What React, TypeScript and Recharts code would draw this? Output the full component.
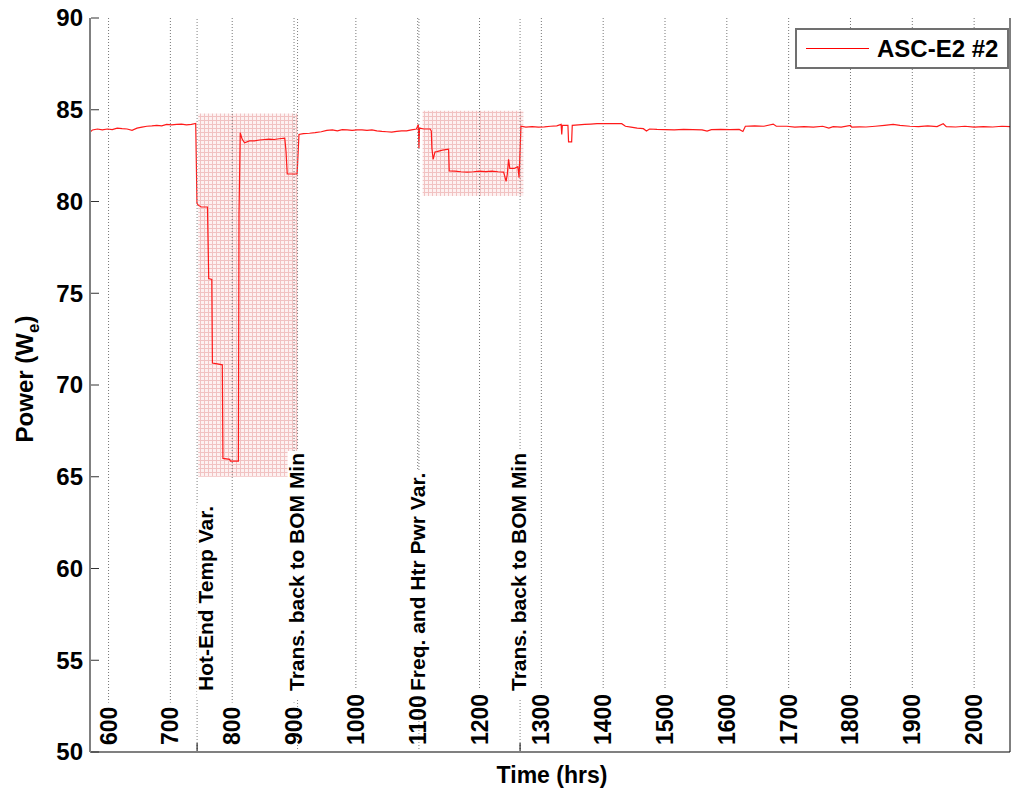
import React from "react";
import {
  Legend,
  Line,
  LineChart,
  ReferenceArea,
  ReferenceLine,
  XAxis,
  YAxis,
} from "recharts";

// test time (hrs) and electrical power (We)
const hours = [
  570, 571, 574, 582, 590, 598, 606, 614, 622, 630, 638, 646, 654, 662, 670, 678, 686, 694, 702, 710,
  718, 726, 734, 741, 742, 743, 745, 750, 760, 761, 762, 767, 768, 776, 784, 785, 796, 797, 810, 811,
  813, 816, 820, 828, 836, 844, 852, 860, 868, 876, 885, 887, 889, 898, 905, 908, 915, 925, 934, 944,
  953, 962, 970, 978, 986, 994, 1002, 1010, 1018, 1026, 1034, 1042, 1050, 1058, 1066, 1074, 1082, 1090, 1098, 1101,
  1102, 1103, 1110, 1120, 1122, 1123, 1125, 1128, 1131, 1140, 1150, 1151, 1160, 1170, 1180, 1190, 1200, 1210, 1220, 1230,
  1239, 1243, 1245, 1247, 1249, 1256, 1262, 1264, 1267, 1275, 1285, 1295, 1305, 1315, 1325, 1332, 1333, 1334, 1343, 1344,
  1349, 1350, 1360, 1370, 1380, 1390, 1400, 1410, 1420, 1430, 1436, 1445, 1455, 1465, 1470, 1475, 1487, 1500, 1515, 1530,
  1545, 1560, 1568, 1575, 1590, 1605, 1620, 1626, 1630, 1645, 1660, 1675, 1680, 1697, 1710, 1725, 1740, 1755, 1765, 1772,
  1785, 1800, 1802, 1815, 1825, 1840, 1855, 1869, 1880, 1896, 1910, 1925, 1940, 1950, 1955, 1970, 1985, 2000, 2015, 2030,
  2045, 2058,
];

const power = [
  84.2, 83.8, 83.9, 83.95, 83.9, 83.95, 83.92, 84.0, 83.97, 83.95, 83.88, 84.0, 84.05, 84.1, 84.12, 84.15, 84.12, 84.2, 84.18, 84.2,
  84.22, 84.18, 84.2, 84.25, 82.1, 79.9, 79.8, 79.7, 79.7, 77.8, 75.8, 75.75, 71.2, 71.15, 71.1, 66.0, 65.95, 65.85, 65.85, 79.3,
  83.75, 83.4, 83.2, 83.3, 83.3, 83.35, 83.38, 83.4, 83.38, 83.42, 83.45, 82.75, 81.5, 81.5, 81.5, 83.65, 83.7, 83.72, 83.75, 83.8,
  83.88, 83.9, 83.85, 83.92, 83.9, 83.88, 83.9, 83.9, 83.88, 83.9, 83.85, 83.82, 83.8, 83.78, 83.82, 83.85, 83.85, 83.9, 83.95, 84.2,
  82.9, 84.0, 83.95, 83.95, 83.85, 82.9, 82.3, 82.7, 82.72, 82.8, 82.85, 81.67, 81.65, 81.62, 81.6, 81.62, 81.65, 81.63, 81.65, 81.62,
  81.6, 81.1, 81.5, 82.3, 81.8, 81.8, 81.9, 81.3, 84.1, 84.05, 84.08, 84.05, 84.07, 84.1, 84.12, 84.2, 83.65, 84.15, 84.15, 83.25,
  83.25, 84.15, 84.18, 84.2, 84.22, 84.24, 84.25, 84.24, 84.25, 84.24, 84.1, 84.05, 84.0, 83.97, 83.84, 83.95, 83.93, 83.92, 83.9, 83.93,
  83.92, 83.9, 83.84, 83.92, 83.93, 83.92, 83.93, 83.82, 84.1, 84.12, 84.1, 84.22, 84.1, 84.1, 84.05, 84.08, 84.05, 84.1, 84.0, 84.08,
  84.05, 84.15, 84.05, 84.07, 84.06, 84.1, 84.15, 84.2, 84.15, 84.1, 84.08, 84.12, 84.08, 84.24, 84.08, 84.06, 84.1, 84.05, 84.08, 84.06,
  84.1, 84.08,
];

const xTicks = [600, 700, 800, 900, 1000, 1100, 1200, 1300, 1400, 1500, 1600, 1700, 1800, 1900, 2000];
const yTicks = [50, 55, 60, 65, 70, 75, 80, 85, 90];

const eventHours = [743.2, 905.7, 1102, 1265.6];
const eventLabels = [
  "Hot-End Temp Var.",
  "Trans. back to BOM Min",
  "Freq. and Htr Pwr Var.",
  "Trans. back to BOM Min",
];

const shadeStart = [745, 1108];
const shadeEnd = [906, 1271];
const shadeLow = [65, 80.3];
const shadeHigh = [84.8, 84.95];

const rows = hours.map((h, i) => ({ hours: h, power: power[i] }));

const FONT = '"Liberation Sans", Arial, Helvetica, sans-serif';
const PLOT_TOP = 18;
const EVENT_FONT = 21;

const measureCtx =
  typeof document !== "undefined" ? document.createElement("canvas").getContext("2d") : null;

function textWidth(s: string, size: number) {
  if (!measureCtx) return s.length * size * 0.55;
  measureCtx.font = `bold ${size}px ${FONT}`;
  return measureCtx.measureText(s).width;
}

function XTick({ x, y, payload }: any) {
  const label = String(payload.value);
  return (
    <text
      transform={`translate(${x + 8},${y - 7}) rotate(-90)`}
      fontFamily={FONT}
      fontWeight="bold"
      fontSize={23}
      fill="#000"
    >
      {label}
    </text>
  );
}

function TopTick({ x, y }: any) {
  return <line x1={x} x2={x} y1={y} y2={y + 8} stroke="#333" />;
}

function YTick({ x, y, payload }: any) {
  return (
    <g>
      <line x1={x + 1} x2={x + 9} y1={y} y2={y} stroke="#333" />
      <text
        x={x - 7}
        y={y}
        dy="0.35em"
        textAnchor="end"
        fontFamily={FONT}
        fontWeight="bold"
        fontSize={24}
        fill="#000"
      >
        {payload.value}
      </text>
    </g>
  );
}

function RightTick({ x, y }: any) {
  return <line x1={x - 8} x2={x} y1={y} y2={y} stroke="#333" />;
}

// dotted grid line that stops just above its rotated tick label
function GridShape(props: any) {
  const { x1, y1, y2, label } = props;
  const top = Math.min(y1, y2);
  const bottom = Math.max(y1, y2);
  const end = bottom - 7 - textWidth(label, 23) - 4;
  return <line x1={x1} x2={x1} y1={top} y2={end} stroke="#777" strokeDasharray="1 2" />;
}

function EventLabel({ viewBox, text, dx, tick }: any) {
  const { x, y, height } = viewBox;
  const bottom = y + height;
  const w = textWidth(text, EVENT_FONT);
  const cx = x + dx;
  return (
    <g>
      {tick && <line x1={x} x2={x} y1={bottom} y2={bottom - 9} stroke="#000" />}
      <g transform={`translate(${cx + 7},${bottom - 61}) rotate(-90)`}>
        <rect x={-9} y={-16} width={w + 11} height={19} fill="#fff" />
        <text x={0} y={0} fontFamily={FONT} fontWeight="bold" fontSize={EVENT_FONT} fill="#000">
          {text}
        </text>
      </g>
    </g>
  );
}

function LegendBox() {
  return (
    <div
      style={{
        boxSizing: "border-box",
        width: 214,
        height: 41,
        border: "2px solid #707070",
        background: "#fff",
        display: "flex",
        alignItems: "center",
        fontFamily: FONT,
        fontWeight: "bold",
        fontSize: 24,
        color: "#000",
      }}
    >
      <div style={{ width: 63, height: 0, borderTop: "1px solid #ff0000", marginLeft: 9 }} />
      <span style={{ marginLeft: 8, lineHeight: "24px" }}>ASC-E2 #2</span>
    </div>
  );
}

export default function App() {
  return (
    <div style={{ position: "absolute", left: 0, top: 0, background: "#fff" }}>
      <LineChart
        width={1011}
        height={791}
        data={rows}
        margin={{ top: PLOT_TOP, right: 0, bottom: 0, left: 0 }}
      >
        <defs>
          <pattern id="mesh" width="4" height="4" patternUnits="userSpaceOnUse">
            <rect width="4" height="4" fill="#fdf1f1" />
            <path d="M0 0.5H4M0.5 0V4" stroke="#f1c2c2" strokeWidth="1" />
          </pattern>
        </defs>
        <XAxis
          dataKey="hours"
          type="number"
          domain={[570, 2058]}
          allowDataOverflow
          ticks={xTicks}
          height={39}
          tickSize={0}
          tickMargin={0}
          tickLine={false}
          axisLine={{ stroke: "#808080", strokeWidth: 2 }}
          tick={(p: any) => <XTick {...p} />}
          label={(p: any) => {
            const vb = p.viewBox || { x: 90, width: 920 };
            return (
              <text
                x={vb.x + vb.width / 2 + 2}
                y={783}
                textAnchor="middle"
                fontFamily={FONT}
                fontWeight="bold"
                fontSize={23}
                fill="#000"
              >
                Time (hrs)
              </text>
            );
          }}
        />
        <XAxis
          xAxisId="top"
          orientation="top"
          type="number"
          domain={[570, 2058]}
          allowDataOverflow
          ticks={xTicks}
          height={0}
          tickSize={0}
          tickMargin={0}
          tickLine={false}
          axisLine={{ stroke: "#000", strokeWidth: 1 }}
          tick={(p: any) => <TopTick {...p} />}
        />
        <YAxis
          type="number"
          domain={[50, 90]}
          ticks={yTicks}
          width={90}
          tickSize={0}
          tickMargin={0}
          tickLine={false}
          axisLine={{ stroke: "#808080", strokeWidth: 2 }}
          tick={(p: any) => <YTick {...p} />}
          label={() => (
            <text
              transform="translate(33,379) rotate(-90)"
              textAnchor="middle"
              fontFamily={FONT}
              fontWeight="bold"
              fontSize={24}
              fill="#000"
            >
              Power (W
              <tspan fontSize={17} dy={6}>
                e
              </tspan>
              <tspan dy={-6}>)</tspan>
            </text>
          )}
        />
        <YAxis
          yAxisId="right"
          orientation="right"
          type="number"
          domain={[50, 90]}
          ticks={yTicks}
          width={1}
          tickSize={0}
          tickMargin={0}
          tickLine={false}
          axisLine={{ stroke: "#000", strokeWidth: 1 }}
          tick={(p: any) => <RightTick {...p} />}
        />
        {shadeStart.map((s, i) => (
          <ReferenceArea
            key={`shade-${i}`}
            x1={s}
            x2={shadeEnd[i]}
            y1={shadeLow[i]}
            y2={shadeHigh[i]}
            fill="url(#mesh)"
            fillOpacity={1}
            stroke="none"
          />
        ))}
        {xTicks.map((t) => (
          <ReferenceLine
            key={`grid-${t}`}
            x={t}
            stroke="#777"
            shape={(p: any) => <GridShape {...p} label={String(t)} />}
          />
        ))}
        <Line
          type="linear"
          dataKey="power"
          stroke="#ff1a1a"
          strokeWidth={1.2}
          dot={false}
          isAnimationActive={false}
        />
        {eventHours.map((h, i) => (
          <ReferenceLine
            key={`event-${i}`}
            x={h}
            stroke="#808080"
            strokeDasharray="1 2"
            label={(p: any) => (
              <EventLabel
                viewBox={p.viewBox}
                text={eventLabels[i]}
                dx={i === 0 ? 9 : -1}
                tick={i === 0 || i === 3}
              />
            )}
          />
        ))}
        <Legend
          layout="horizontal"
          verticalAlign="middle"
          align="center"
          wrapperStyle={{ top: 28, left: 795, width: 214, height: 41 }}
          content={() => <LegendBox />}
        />
      </LineChart>
    </div>
  );
}
